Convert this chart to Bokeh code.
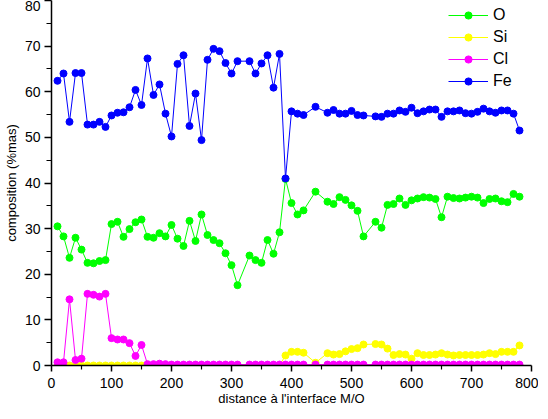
from bokeh.plotting import figure
from bokeh.models import Legend, LegendItem, Range1d, FixedTicker, ColumnDataSource
from bokeh.embed import file_html
from bokeh.resources import INLINE

# distance (µm-like units) — points at 320, 430, 450, 530 are absent in the source
distance = [10, 20, 30, 40, 50, 60, 70, 80, 90, 100, 110, 120, 130, 140, 150, 160, 170, 180, 190, 200,
            210, 220, 230, 240, 250, 260, 270, 280, 290, 300, 310, 330, 340, 350, 360, 370, 380, 390,
            400, 410, 420, 440, 460, 470, 480, 490, 500, 510, 520, 540, 550, 560, 570, 580, 590, 600,
            610, 620, 630, 640, 650, 660, 670, 680, 690, 700, 710, 720, 730, 740, 750, 760, 770, 780]

O = [30.5, 28.3, 23.6, 28.0, 25.4, 22.5, 22.4, 22.9, 23.1, 31.0, 31.5, 28.2, 29.9, 31.4, 32.0, 28.2,
     28.0, 29.0, 28.3, 30.8, 27.8, 26.2, 31.7, 27.3, 33.1, 28.6, 27.5, 26.8, 24.6, 22.0, 17.6, 24.1,
     23.1, 22.5, 27.5, 24.5, 29.2, 40.9, 35.6, 33.1, 34.0, 38.1, 35.9, 35.4, 36.9, 36.3, 35.1, 33.9,
     28.3, 31.5, 30.2, 35.2, 35.4, 36.6, 35.2, 36.2, 36.6, 36.9, 36.8, 36.5, 32.5, 37.0, 36.7, 36.6,
     36.8, 37.0, 36.8, 35.6, 36.5, 36.6, 36.0, 35.8, 37.6, 37.0]

Si = [0, 0, 0, 0, 0, 0, 0, 0, 0, 0, 0, 0, 0, 0, 0, 0, 0, 0, 0, 0,
      0, 0, 0, 0, 0, 0, 0, 0, 0, 0, 0, 0, 0, 0, 0, 0, 0, 2.2,
      3.0, 3.0, 2.8, 0.6, 2.7, 2.4, 2.5, 3.1, 3.6, 3.8, 4.6, 4.7, 4.6, 3.7, 2.3, 2.5, 2.4, 1.5,
      2.7, 2.3, 2.3, 2.4, 2.7, 2.4, 2.2, 2.3, 2.3, 2.3, 2.3, 2.4, 2.7, 2.5, 3.0, 3.0, 3.0, 4.4]

Cl = [0.7, 0.7, 14.5, 1.2, 1.5, 15.7, 15.5, 15.1, 15.7, 6.0, 5.7, 5.7, 4.9, 2.1, 4.5, 0.3, 0.3, 0.4, 0.3, 0.2,
      0.2, 0.2, 0.2, 0.2, 0.2, 0.2, 0.2, 0.2, 0.2, 0.2, 0.2, 0.2, 0.2, 0.2, 0.2, 0.2, 0.2, 0.2,
      0.2, 0.2, 0.2, 0.2, 0.2, 0.2, 0.2, 0.2, 0.2, 0.2, 0.2, 0.2, 0.2, 0.2, 0.2, 0.2, 0.2, 0.2,
      0.2, 0.2, 0.2, 0.2, 0.2, 0.2, 0.2, 0.2, 0.2, 0.2, 0.2, 0.2, 0.2, 0.2, 0.2, 0.2, 0.2, 0.2]

Fe = [62.4, 64.0, 53.4, 64.1, 64.1, 52.8, 52.8, 53.4, 52.3, 54.8, 55.4, 55.5, 56.6, 60.4, 57.1, 67.3,
      59.3, 61.6, 55.2, 50.2, 66.1, 68.0, 52.5, 59.6, 49.4, 67.0, 69.4, 68.9, 66.3, 64.0, 66.7, 66.7,
      64.0, 66.2, 68.0, 60.9, 68.3, 41.0, 55.7, 55.2, 54.9, 56.7, 55.4, 56.0, 55.2, 55.2, 55.8, 54.9,
      54.8, 54.6, 54.5, 55.2, 55.2, 55.9, 55.6, 56.5, 55.3, 55.7, 56.1, 56.1, 54.5, 55.7, 55.7, 55.9,
      55.3, 55.2, 55.6, 56.3, 55.7, 55.4, 55.9, 55.9, 55.2, 51.5]

series_names = ["O", "Si", "Cl", "Fe"]
series_values = [O, Si, Cl, Fe]
series_colors = ["#00ff00", "#ffff00", "#ff00ff", "#0000ff"]

x_ticks = [0, 100, 200, 300, 400, 500, 600, 700, 800]
y_ticks = [0, 10, 20, 30, 40, 50, 60, 70, 80]

FONT = "Liberation Sans"

p = figure(frame_width=480, frame_height=365,
           x_range=Range1d(0, 800), y_range=Range1d(0, 80),
           output_backend="svg", toolbar_location=None,
           min_border_left=45, min_border_right=7, min_border_top=0, min_border_bottom=38)
p.outline_line_color = None
p.xgrid.visible = False
p.ygrid.visible = False
p.background_fill_color = "white"
p.border_fill_color = "white"

# axes
p.xaxis.ticker = FixedTicker(ticks=x_ticks, minor_ticks=list(range(50, 800, 100)))
p.yaxis.ticker = FixedTicker(ticks=y_ticks, minor_ticks=list(range(5, 80, 10)))
for ax in (p.xaxis[0], p.yaxis[0]):
    ax.axis_line_color = "black"
    ax.axis_line_width = 1.5
    ax.major_tick_line_color = "black"
    ax.major_tick_line_width = 1.5
    ax.minor_tick_line_color = "black"
    ax.minor_tick_line_width = 1.2
    ax.major_tick_in = 0
    ax.minor_tick_in = 0
    ax.major_label_text_font = FONT
    ax.major_label_text_font_size = "14px"
    ax.major_label_text_color = "black"
    ax.axis_label_text_font = FONT
    ax.axis_label_text_font_size = "13px"
    ax.axis_label_text_font_style = "normal"
    ax.axis_label_text_color = "black"

p.xaxis.major_tick_out = 6
p.xaxis.minor_tick_out = 4
p.xaxis.major_label_standoff = 6
p.xaxis.axis_label = "distance à l'interface M/O"
p.xaxis.axis_label_standoff = 0
p.yaxis.major_tick_out = 7
p.yaxis.minor_tick_out = 5
p.yaxis.major_label_standoff = 4
p.yaxis.axis_label = "composition (%mas)"
p.yaxis.axis_label_standoff = 3

src = ColumnDataSource(dict(x=distance, O=O, Si=Si, Cl=Cl, Fe=Fe))

items = []
for name, col in zip(series_names, series_colors):
    ln = p.line("x", name, source=src, line_color=col, line_width=1)
    halo = p.scatter([], [], size=7, marker="circle", fill_color="white", line_color="white", line_width=3)
    sc = p.scatter("x", name, source=src, size=7, marker="circle", fill_color=col, line_color=col)
    items.append(LegendItem(label=name, renderers=[ln, halo, sc]))

legend = Legend(items=items, location=(397, 273), orientation="vertical",
                padding=0, margin=0, spacing=0,
                glyph_width=40, glyph_height=18, label_height=22, label_standoff=5,
                label_text_font=FONT, label_text_font_size="16px", label_text_color="black",
                border_line_color=None, background_fill_alpha=0)
p.add_layout(legend, "center")

open("out.html", "w").write(file_html(p, INLINE))
